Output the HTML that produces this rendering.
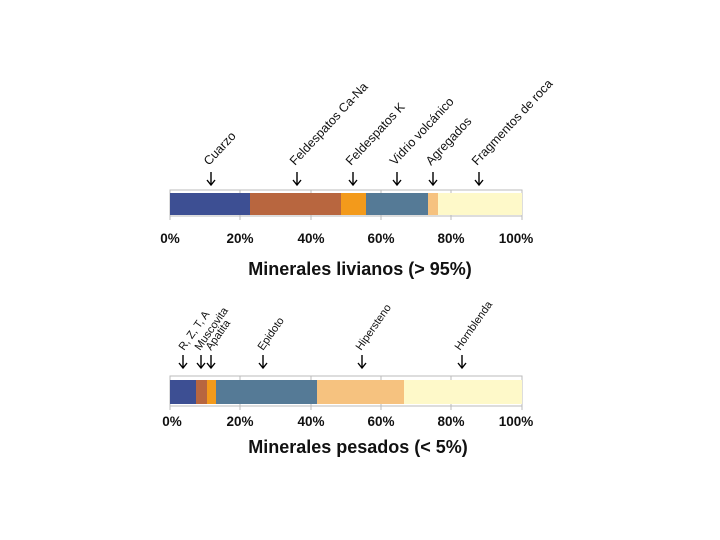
<!DOCTYPE html>
<html><head><style>body{margin:0;background:#fff}svg{display:block}</style></head><body>
<svg width="720" height="540" xmlns="http://www.w3.org/2000/svg" font-family="Liberation Sans, Arial, sans-serif">
<defs>
<g id="ar"><line x1="0" y1="0" x2="0" y2="13" stroke="#000" stroke-width="1.4"/><polyline points="-4,8 0,13 4,8" fill="none" stroke="#000" stroke-width="1.4"/></g>
</defs>
<rect x="170" y="190" width="352" height="26" fill="#fff" stroke="#bbb"/>
<g stroke="#bbb"><line x1="240" y1="190" x2="240" y2="220"/><line x1="311" y1="190" x2="311" y2="220"/><line x1="381" y1="190" x2="381" y2="220"/><line x1="451" y1="190" x2="451" y2="220"/><line x1="170" y1="216" x2="170" y2="220"/><line x1="522" y1="216" x2="522" y2="220"/></g>
<rect x="170" y="193" width="80" height="22" fill="#3d4f93"/>
<rect x="250" y="193" width="91" height="22" fill="#b8663f"/>
<rect x="341" y="193" width="25" height="22" fill="#f39a1b"/>
<rect x="366" y="193" width="62" height="22" fill="#557a96"/>
<rect x="428" y="193" width="10" height="22" fill="#f6c27f"/>
<rect x="438" y="193" width="84" height="22" fill="#fef9c9"/>
<g font-size="13.5" font-weight="bold" text-anchor="middle" fill="#111">
<text x="170" y="243">0%</text><text x="240" y="243">20%</text><text x="311" y="243">40%</text><text x="381" y="243">60%</text><text x="451" y="243">80%</text><text x="516" y="243">100%</text></g>
<text x="360" y="275" font-size="18" font-weight="bold" text-anchor="middle" fill="#111">Minerales livianos (&gt; 95%)</text>
<use href="#ar" x="211" y="172"/><use href="#ar" x="297" y="172"/><use href="#ar" x="353" y="172"/><use href="#ar" x="397" y="172"/><use href="#ar" x="433" y="172"/><use href="#ar" x="479" y="172"/>
<g font-size="12.5" fill="#111">
<text transform="translate(209,166) rotate(-47)">Cuarzo</text>
<text transform="translate(295,166) rotate(-47)">Feldespatos Ca-Na</text>
<text transform="translate(351,166) rotate(-47)">Feldespatos K</text>
<text transform="translate(395,166) rotate(-47)">Vidrio volcánico</text>
<text transform="translate(431,166) rotate(-47)">Agregados</text>
<text transform="translate(477,166) rotate(-47)">Fragmentos de roca</text>
</g>
<rect x="170" y="376" width="352" height="30" fill="#fff" stroke="#bbb"/>
<g stroke="#bbb"><line x1="240" y1="376" x2="240" y2="410"/><line x1="311" y1="376" x2="311" y2="410"/><line x1="381" y1="376" x2="381" y2="410"/><line x1="451" y1="376" x2="451" y2="410"/><line x1="170" y1="406" x2="170" y2="410"/><line x1="522" y1="406" x2="522" y2="410"/></g>
<rect x="170" y="380" width="26" height="24" fill="#3d4f93"/>
<rect x="196" y="380" width="11" height="24" fill="#b8663f"/>
<rect x="207" y="380" width="9" height="24" fill="#f39a1b"/>
<rect x="216" y="380" width="101" height="24" fill="#557a96"/>
<rect x="317" y="380" width="87" height="24" fill="#f6c27f"/>
<rect x="404" y="380" width="118" height="24" fill="#fef9c9"/>
<g font-size="13.5" font-weight="bold" text-anchor="middle" fill="#111">
<text x="172" y="426">0%</text><text x="240" y="426">20%</text><text x="311" y="426">40%</text><text x="381" y="426">60%</text><text x="451" y="426">80%</text><text x="516" y="426">100%</text></g>
<text x="358" y="453" font-size="18" font-weight="bold" text-anchor="middle" fill="#111">Minerales pesados (&lt; 5%)</text>
<use href="#ar" x="183" y="355"/><use href="#ar" x="201" y="355"/><use href="#ar" x="211" y="355"/><use href="#ar" x="263" y="355"/><use href="#ar" x="362" y="355"/><use href="#ar" x="462" y="355"/>
<g font-size="11" fill="#111">
<text transform="translate(184,351) rotate(-55)">R, Z, T, A</text>
<text transform="translate(200,351) rotate(-55)">Muscovita</text>
<text transform="translate(211,351) rotate(-55)">Apatita</text>
<text transform="translate(263,351) rotate(-55)">Epidoto</text>
<text transform="translate(361,351) rotate(-55)">Hipersteno</text>
<text transform="translate(460,351) rotate(-55)">Hornblenda</text>
</g>
</svg>
</body></html>
